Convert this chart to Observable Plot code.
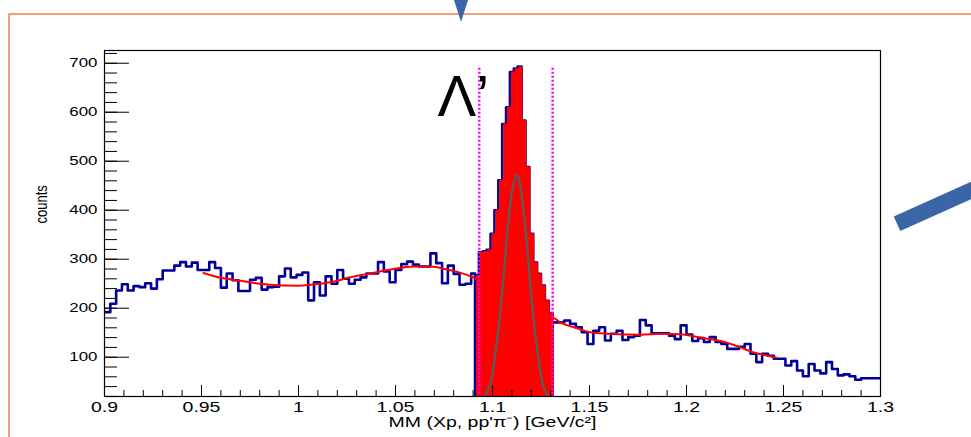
<!DOCTYPE html>
<html>
<head>
<meta charset="utf-8">
<script src="https://cdn.jsdelivr.net/npm/d3@7"></script>
<script src="https://cdn.jsdelivr.net/npm/@observablehq/plot@0.6"></script>
<style>
  html, body { margin: 0; padding: 0; background: #fff; }
  #chart { width: 971px; height: 437px; overflow: hidden; }
</style>
</head>
<body>
<div id="chart"></div>
<script>
// Missing-mass spectrum MM(Xp, pp'pi-): 3 MeV bins outside the Lambda window,
// 2 MeV bins inside it.
const bgStart = 0.9;
const bgWidth = 0.003;
const bgLeftCounts = [
  192, 209, 236, 249, 236, 245, 243, 251, 240, 259, 277, 277, 287, 294, 285, 293,
  278, 278, 294, 282, 242, 271, 257, 235, 235, 258, 262, 238, 243, 244, 265, 281,
  263, 268, 273, 216, 253, 226, 265, 250, 278, 260, 250, 258, 263, 271, 271, 294,
  275, 253, 278, 290, 295, 289, 285, 285, 312, 292, 251, 287, 270, 248, 250, 271
];
const bgRightStart = 1.131;
const bgRightCounts = [
  171, 171, 175, 168, 161, 151, 127, 154, 161, 134, 148, 154, 135, 141, 144, 176,
  165, 149, 149, 149, 144, 137, 165, 146, 133, 139, 131, 141, 131, 127, 117, 117,
  121, 127, 107, 90, 107, 103, 97, 97, 83, 92, 73, 61, 86, 73, 67, 90,
  76, 63, 65, 61, 54, 57, 57, 57, 57
];
const peakStart = 1.091;
const peakWidth = 0.002;
const peakCounts = [
  267, 314, 316, 319, 352, 400, 461, 576, 610, 682,
  689, 693, 583, 488, 352, 293, 270, 246, 215, 190
];

// Background polynomial fit
const bgFitX = [0.951, 0.96, 0.97, 0.985, 1.0, 1.0065, 1.0165, 1.0268, 1.037, 1.0474,
  1.0595, 1.068, 1.0767, 1.0852, 1.092, 1.10, 1.11, 1.12, 1.1325, 1.135, 1.142,
  1.1505, 1.159, 1.1765, 1.1865, 1.197, 1.207, 1.2175, 1.2278, 1.233, 1.2464];
const bgFitY = [272, 262, 256, 248, 246, 248, 253, 263, 271, 279,
  285, 285, 279, 270, 260, 248, 230, 208, 178, 171, 161,
  151, 148, 146, 148, 147, 140, 133, 120, 112, 99];

// Gaussian signal component
const sigX = [1.094, 1.098, 1.1005, 1.104, 1.107, 1.1095, 1.1124, 1.115, 1.118, 1.121, 1.1245, 1.127, 1.131];
const sigY = [7, 35, 79, 194, 326, 424, 471, 432, 317, 185, 74, 32, 6];

// Selection window
const cutX = [1.0932, 1.1310];

const xTicks = [0.9, 0.95, 1, 1.05, 1.1, 1.15, 1.2, 1.25, 1.3];
const xTickLabels = ["0.9", "0.95", "1", "1.05", "1.1", "1.15", "1.2", "1.25", "1.3"];
const yTicks = [100, 200, 300, 400, 500, 600, 700];
const yTickLabels = ["100", "200", "300", "400", "500", "600", "700"];
const xMinor = d3.range(0, 41).map(i => +(0.9 + i * 0.01).toFixed(3));
const yMinor = d3.range(1, 37).map(i => i * 20);

const peakLabel = [{x: 1.0716, y: 677, text: "Λ’"}];
const xTitle = "MM (Xp, pp'π⁻) [GeV/c²]";
const yTitle = "counts";

// Outline of the full histogram: left sideband, peak window, right sideband
const outline = [];
bgLeftCounts.forEach((c, i) => outline.push({x: bgStart + i * bgWidth, y: c}));
outline.push({x: peakStart, y: 0});
peakCounts.forEach((c, i) => outline.push({x: peakStart + i * peakWidth, y: c}));
const peakEnd = peakStart + peakCounts.length * peakWidth;
outline.push({x: peakEnd, y: 0});
bgRightCounts.forEach((c, i) => outline.push({x: bgRightStart + i * bgWidth, y: c}));
outline.push({x: bgRightStart + bgRightCounts.length * bgWidth, y: bgRightCounts[bgRightCounts.length - 1]});

const peakFill = peakCounts.map((c, i) => ({x: peakStart + i * peakWidth, y: c}));
peakFill.push({x: peakEnd, y: peakCounts[peakCounts.length - 1]});

const bgFit = bgFitX.map((x, i) => ({x, y: bgFitY[i]}));
const sig = sigX.map((x, i) => ({x, y: sigY[i]}));

const W = 971, H = 437;
const mL = 104, mR = 91, mT = 50, mB = 41;
const fw = W - mL - mR, fh = H - mT - mB;

const chart = Plot.plot({
  width: W,
  height: H,
  marginLeft: mL,
  marginRight: mR,
  marginTop: mT,
  marginBottom: mB,
  style: {fontFamily: "'Liberation Sans', Arial, sans-serif", fontSize: "13px", color: "black", background: "white", overflow: "visible"},
  x: {domain: [0.9, 1.3], axis: null},
  y: {domain: [19.8, 726], axis: null},
  marks: [
    Plot.lineY(outline, {x: "x", y: "y", curve: "step-after", stroke: "#000099", strokeWidth: 2.6, clip: true}),
    Plot.lineY(bgFit, {x: "x", y: "y", curve: "monotone-x", stroke: "#ff0000", strokeWidth: 2, clip: true}),
    Plot.areaY(peakFill, {x: "x", y: "y", curve: "step-after", fill: "#ff0000", dx: 1.4, clip: true}),
    Plot.lineY(sig, {x: "x", y: "y", curve: "natural", stroke: "#5a5a5a", strokeWidth: 2.4, clip: true}),
    Plot.ruleX(cutX, {y1: 0, y2: d3.max(peakCounts), stroke: "#ff00ff", strokeWidth: 2.4, strokeDasharray: "2,2", clip: true}),
    // inward ticks
    Plot.ruleY(yTicks, {insetRight: fw - 25, stroke: "black"}),
    Plot.ruleY(yMinor, {insetRight: fw - 13, stroke: "black"}),
    Plot.ruleX(xTicks, {insetTop: fh - 11, stroke: "black"}),
    Plot.ruleX(xMinor, {insetTop: fh - 6, stroke: "black"}),
    Plot.frame({stroke: "black", strokeWidth: 1.2}),
    Plot.axisY(yTicks, {anchor: "left", tickSize: 0, tickPadding: 7, fontSize: 13, tickFormat: (d, i) => yTickLabels[i], label: null}),
    Plot.axisX(xTicks, {anchor: "bottom", tickSize: 0, tickPadding: 4.5, fontSize: 15, tickFormat: (d, i) => xTickLabels[i], label: null}),
    Plot.text([xTitle], {frameAnchor: "bottom", dy: 26, lineAnchor: "middle", fontSize: 15}),
    Plot.text([yTitle], {frameAnchor: "left", dx: -63, rotate: -90, fontSize: 13}),
    Plot.text(peakLabel, {x: "x", y: "y", text: "text", textAnchor: "start", lineAnchor: "top", fontSize: 58})
  ]
});

document.getElementById("chart").appendChild(chart);

// axis texts are horizontally stretched
const stretch = "scale(1.3,1)";
d3.select(chart).selectAll("text").each(function () {
  const t = this.getAttribute("transform") || "";
  const parent = this.parentNode && this.parentNode.getAttribute("aria-label");
  const content = this.textContent;
  if (parent === "y-axis tick label" || parent === "x-axis tick label" || content === xTitle) {
    this.setAttribute("transform", t + " " + stretch);
  } else if (content === yTitle) {
    // stretch across the rotated glyphs: apply before the rotation
    this.setAttribute("transform", t.replace(/rotate\(([^)]*)\)/, stretch + " rotate($1)"));
  }
});

// slide decoration around the figure
const deco = d3.select(chart).append("g").attr("aria-label", "slide decoration");
deco.append("path").attr("d", "M9,437V14H971").attr("fill", "none").attr("stroke", "#f0804f").attr("stroke-width", 1.5);
deco.append("path").attr("d", "M454,0L468,0L461,22Z").attr("fill", "#3a66a7");
deco.append("line").attr("x1", 897).attr("y1", 223.7).attr("x2", 1000).attr("y2", 177.5)
  .attr("stroke", "#3a66a7").attr("stroke-width", 16);
</script>
</body>
</html>
